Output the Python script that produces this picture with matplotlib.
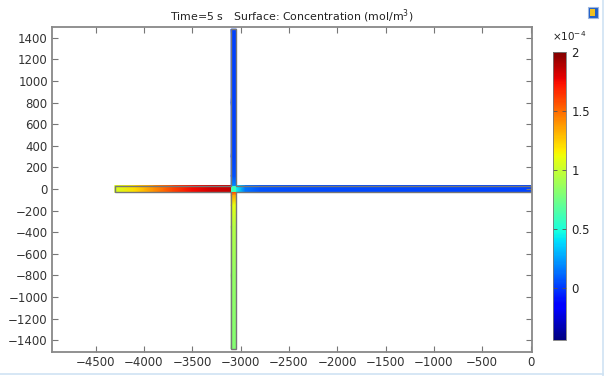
import numpy as np
import matplotlib.pyplot as plt
from matplotlib.patches import Polygon, Rectangle
from matplotlib.lines import Line2D
import matplotlib.colors as mcolors

# concentration along each arm of the channel (units of 1e-4 mol/m^3)
left_x = [-4300, -4100, -3900, -3700, -3500, -3300, -3095]
left_c = [1.05, 1.2, 1.4, 1.6, 1.75, 1.82, 1.85]
right_x = [-3045, -2950, -2800, -2500, -1500, 0]
right_c = [0.45, 0.15, 0.07, 0.05, 0.04, 0.03]
top_y = [28, 120, 300, 800, 1480]
top_c = [0.2, 0.06, 0.03, 0.02, 0.02]
bot_y = [-28, -60, -150, -350, -800, -1480]
bot_c = [1.6, 1.35, 1.1, 0.95, 0.85, 0.8]
junction_c = 0.6

xc = -3070        # x of the vertical channel
hwx = 27          # half width of vertical channel
hwy = 32          # half width of horizontal channel
vmin, vmax = -0.44, 2.0

fig = plt.figure(figsize=(6.08, 3.76), dpi=100)
ax = fig.add_axes([52/608, 1-352/376, 480/608, 325/376])
cmap = plt.get_cmap('jet')
norm = mcolors.Normalize(vmin, vmax)


def hstrip(xs, cs):
    X = np.array([xs, xs])
    Y = np.array([[-hwy]*len(xs), [hwy]*len(xs)])
    C = np.array([cs, cs])
    ax.pcolormesh(X, Y, C, shading='gouraud', cmap=cmap, norm=norm, antialiased=True)


def vstrip(ys, cs):
    Y = np.array([ys, ys]).T
    X = np.array([[xc-hwx, xc+hwx]]*len(ys))
    C = np.array([cs, cs]).T
    ax.pcolormesh(X, Y, C, shading='gouraud', cmap=cmap, norm=norm, antialiased=True)


hstrip(left_x[:-1] + [xc-hwx], left_c)
hstrip([xc+hwx] + right_x[1:], right_c)
vstrip([hwy] + top_y[1:], top_c)
vstrip([-hwy] + bot_y[1:], bot_c)
ax.add_patch(Rectangle((xc-hwx, -hwy), 2*hwx, 2*hwy,
                       facecolor=cmap(norm(junction_c)), edgecolor='none'))

outline = [(-4300, -hwy), (xc-hwx, -hwy), (xc-hwx, -1480), (xc+hwx, -1480),
           (xc+hwx, -hwy), (0, -hwy), (0, hwy), (xc+hwx, hwy), (xc+hwx, 1480),
           (xc-hwx, 1480), (xc-hwx, hwy), (-4300, hwy)]
ax.add_patch(Polygon(outline, closed=True, fill=False, edgecolor='#777777', lw=1.0))

ax.set_xlim(-4950, 15)
ax.set_ylim(-1510, 1500)
ax.set_xticks(np.arange(-4500, 1, 500))
ax.set_yticks(np.arange(-1400, 1401, 200))
ax.tick_params(direction='in', length=4, width=0.8, colors='#777777',
               labelcolor='#333333', labelsize=8.5, top=True, right=True, pad=3)
for s in ax.spines.values():
    s.set_color('#888888')
    s.set_linewidth(1.3)
ax.set_title('Time=5 s   Surface: Concentration (mol/m$^3$)', fontsize=7.9,
             color='#222222', pad=5)

cax = fig.add_axes([553/608, 1-340/376, 13/608, 288/376])
cb = fig.colorbar(plt.cm.ScalarMappable(norm=norm, cmap=cmap), cax=cax)
cb.set_ticks([0, 0.5, 1, 1.5, 2])
cb.set_ticklabels(['0', '0.5', '1', '1.5', '2'])
cax.tick_params(direction='in', length=3, width=0.6, colors='#555555',
                labelcolor='#222222', labelsize=8.5, left=True, right=True, pad=4)
cb.outline.set_linewidth(0.6)
cb.outline.set_edgecolor('#777777')
fig.text(569/608, 1-41/376, r'$\times10^{-4}$', fontsize=7.5, color='#222222', ha='center')

# window decorations
fig.add_artist(Line2D([603/608, 603/608], [0, 1], color='#cfe3f3', lw=1.2))
fig.add_artist(Line2D([0, 603/608], [2/376, 2/376], color='#cfe3f3', lw=1.2))
fig.add_artist(Rectangle((588/608, 1-18/376), 10/608, 11/376, facecolor='#1f5fc8',
                         edgecolor='#9fb8e0', lw=0.8))
fig.add_artist(Rectangle((590/608, 1-16/376), 5/608, 7/376, facecolor='#f0c020',
                         edgecolor='none'))

fig.savefig('out.png', dpi=100)
